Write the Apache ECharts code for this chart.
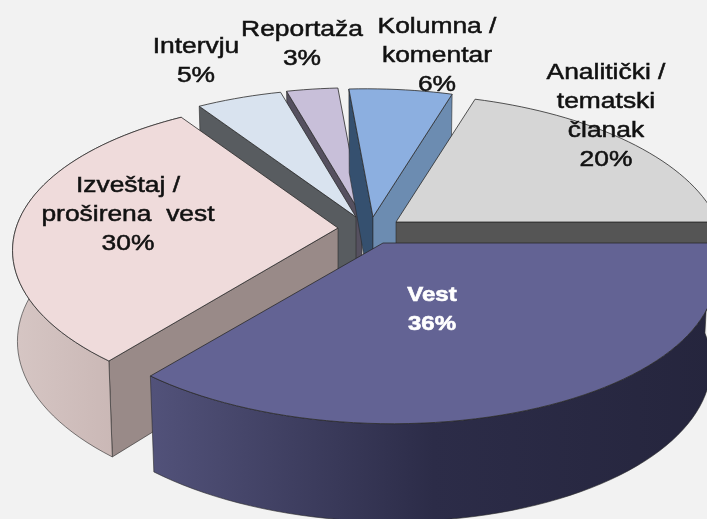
<!DOCTYPE html>
<html><head><meta charset="utf-8">
<style>html,body{margin:0;padding:0;background:#f2f2f2}#c{width:707px;height:519px}</style>
<script src="https://cdn.jsdelivr.net/npm/echarts@6/dist/echarts.min.js"></script>
</head><body><div id="c"></div>
<script>
// Data (percent shares, clockwise from the right-hand horizontal)
var categories = ['Vest', 'Izveštaj /\nproširena  vest', 'Intervju', 'Reportaža', 'Kolumna /\nkomentar', 'Analitički /\ntematski\nčlanak'];
var values = [36, 30, 5, 3, 6, 20];

// Appearance, by slice (null = that face is turned away and not drawn)
var topColors = ['#636394', '#efdbdb', '#d9e3ef', '#c8bfd9', '#8cafe0', '#d6d6d6'];
var startWallColors = [null, '#998a88', '#585c60', '#55505f', '#35506f', null];
var endWallColors = [null, null, null, null, '#6c8cb1', '#555555'];
var outerWallStops = [['#52527a', '#2c2c48', '#25253d'], ['#d6c6c4', '#ccbab8', '#c2aeab'], null, null, null, null];
var apexes = [[383, 243], [338, 228], [356, 217], [362, 216], [373, 217], [396, 222]];
var radiusScale = [1.015, 1, 1, 1, 1, 1];
var sliceDepth = [90, 90, 90, 90, 90, 40];
var labelPos = [[432, 281], [128, 171], [196, 32], [302, 15], [437, 12], [606, 58]];
var labelColors = ['#ffffff', '#111111', '#111111', '#111111', '#111111', '#111111'];
var drawOrder = [3, 4, 5, 2, 1, 0];

// Projection of the tilted disc
var R = 322, S = 150, K = 0.17, SHEAR = 8, BOTTOM_SCALE = 0.985;
var total = values.reduce(function (a, b) { return a + b; }, 0);
var starts = [], acc = 0;
values.forEach(function (v) { starts.push(acc / total * 2 * Math.PI); acc += v; });

function proj(i, a, r, bottom) {
  var X = r * Math.cos(a), Y = r * Math.sin(a), w = 1 / (1 - K * Y), p = apexes[i];
  var wb = bottom ? w * BOTTOM_SCALE : w;
  return [p[0] + (R * radiusScale[i] * X + SHEAR * Y) * wb,
          p[1] + S * Y * wb + (bottom ? sliceDepth[i] * Math.pow(w, 0.6) : 0)];
}
function rim(i, a0, a1, bottom) {
  var n = Math.max(2, Math.ceil((a1 - a0) / (Math.PI / 90))), pts = [];
  for (var k = 0; k <= n; k++) pts.push(proj(i, a0 + (a1 - a0) * k / n, 1, bottom));
  return pts;
}
function poly(points, fill, stroke, lw) {
  return { type: 'polygon', shape: { points: points }, silent: true,
    style: { fill: fill, stroke: stroke, lineWidth: lw, lineJoin: 'round' } };
}
function renderSlice(params, api) {
  var i = api.value(0), a0 = starts[i], a1 = a0 + api.value(1) / total * 2 * Math.PI;
  var edge = '#2a2a2a', kids = [];
  var top = rim(i, a0, a1, false), bot = rim(i, a0, a1, true);
  var c = proj(i, 0, 0, false), cb = proj(i, 0, 0, true);
  if (startWallColors[i]) kids.push(poly([c, top[0], bot[0], cb], startWallColors[i], edge, 0.6));
  if (endWallColors[i]) kids.push(poly([c, top[top.length - 1], bot[bot.length - 1], cb], endWallColors[i], edge, 0.6));
  var s = outerWallStops[i];
  if (s) kids.push(poly(top.concat(bot.slice().reverse()), new echarts.graphic.LinearGradient(0, 0, 1, 0, [
    { offset: 0, color: s[0] }, { offset: 0.5, color: s[1] }, { offset: 1, color: s[2] }
  ]), edge, 0.6));
  kids.push(poly([c].concat(top), topColors[i], edge, 0.8));
  return { type: 'group', children: kids };
}
function renderLabel(params, api) {
  var i = api.value(0), p = labelPos[i];
  return { type: 'text', x: p[0], y: p[1], scaleX: 1.2, silent: true, style: {
    text: categories[i] + '\n' + api.value(1) + '%', x: 0, y: 0,
    align: 'center', verticalAlign: 'top',
    fill: labelColors[i], stroke: labelColors[i], lineWidth: i === 0 ? 0.6 : 0.5,
    font: (i === 0 ? 'bold 20px' : '22px') + ' "Liberation Sans", Arial, sans-serif', lineHeight: 29
  } };
}
var sliceData = drawOrder.map(function (i) { return { name: categories[i], value: [i, values[i]] }; });
var chart = echarts.init(document.getElementById('c'), null, { renderer: 'canvas' });
chart.setOption({
  backgroundColor: '#f2f2f2',
  animation: false,
  series: [
    { type: 'custom', coordinateSystem: 'none', renderItem: renderSlice, data: sliceData, z: 1, silent: true },
    { type: 'custom', coordinateSystem: 'none', renderItem: renderLabel, data: sliceData, z: 2, silent: true }
  ]
});
</script></body></html>
